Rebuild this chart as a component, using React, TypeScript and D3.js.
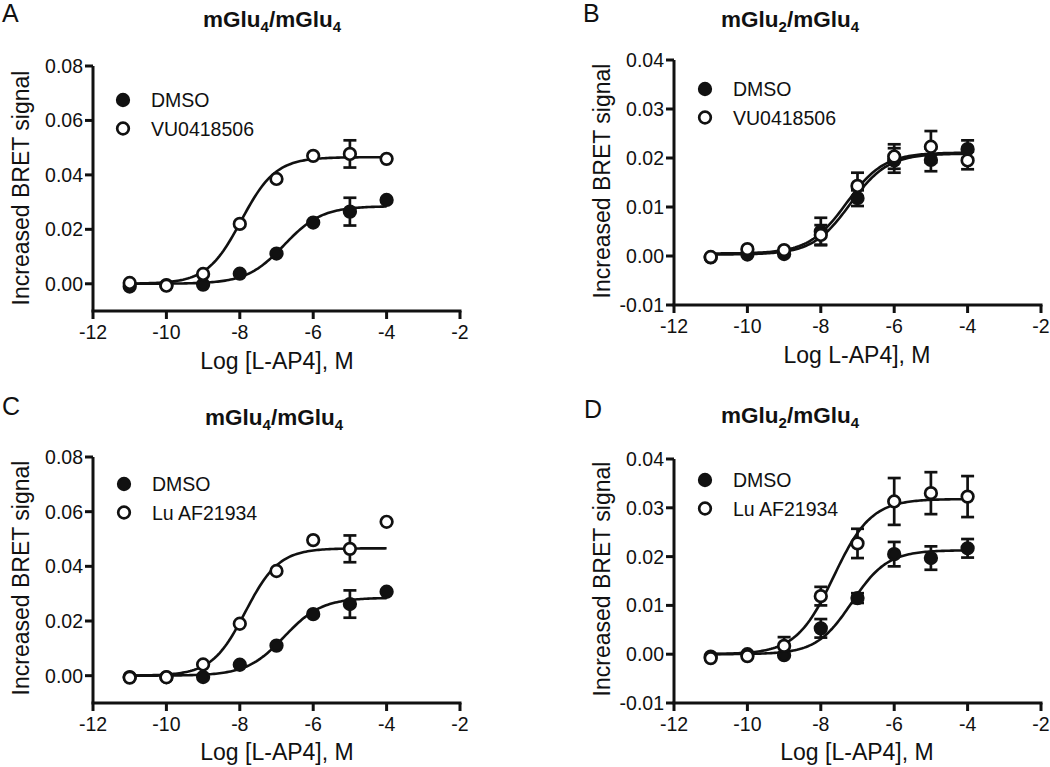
import React from 'react';
import * as d3 from 'd3';

// ---- data ----
const logConc = [-11, -10, -9, -8, -7, -6, -5, -4];
const xTicks = [-12, -10, -8, -6, -4, -2];
const yTicksMGlu4 = [0, 0.02, 0.04, 0.06, 0.08];
const yTicksMGlu2 = [-0.01, 0, 0.01, 0.02, 0.03, 0.04];

// Panel A
const aDmso = [-0.001, -0.0005, -0.0003, 0.0037, 0.0111, 0.0225, 0.0265, 0.0308];
const aDmsoSem = [0, 0, 0, 0, 0, 0, 0.0051, 0];
const aVu = [0.0003, -0.0007, 0.0036, 0.022, 0.0385, 0.047, 0.0477, 0.0459];
const aVuSem = [0, 0, 0, 0, 0, 0, 0.005, 0];
// fit params: [bottom, top, logEC50, hill]
const aDmsoFit = [0, 0.0285, -6.79, 0.85];
const aVuFit = [0, 0.0465, -7.96, 0.93];

// Panel B
const bDmso = [-0.0003, 0.0003, 0.0004, 0.005, 0.0118, 0.0195, 0.0196, 0.0218];
const bDmsoSem = [0, 0, 0, 0.0028, 0.0016, 0.0025, 0.0023, 0.0018];
const bVu = [-0.0002, 0.0014, 0.0012, 0.0043, 0.0143, 0.0203, 0.0223, 0.0195];
const bVuSem = [0, 0, 0, 0.002, 0.0027, 0.0025, 0.0032, 0.0018];
const bDmsoFit = [0.0003, 0.0209, -7.2, 0.85];
const bVuFit = [0.0005, 0.0211, -7.3, 0.85];

// Panel C
const cDmso = [-0.0005, -0.0005, -0.0005, 0.004, 0.011, 0.0225, 0.0262, 0.0307];
const cDmsoSem = [0, 0, 0, 0, 0, 0, 0.005, 0];
const cLu = [-0.0007, -0.0006, 0.0041, 0.019, 0.0383, 0.0496, 0.0464, 0.0563];
const cLuSem = [0, 0, 0, 0, 0, 0, 0.0049, 0];
const cDmsoFit = [0, 0.0285, -6.79, 0.85];
const cLuFit = [0, 0.0466, -7.85, 0.95];

// Panel D
const dDmso = [-0.0005, 0.0, -0.0002, 0.0053, 0.0115, 0.0205, 0.0197, 0.0217];
const dDmsoSem = [0, 0, 0, 0.0019, 0.001, 0.0025, 0.0024, 0.0019];
const dLu = [-0.0008, -0.0004, 0.0017, 0.0119, 0.0227, 0.0313, 0.033, 0.0323];
const dLuSem = [0, 0, 0.0018, 0.0019, 0.003, 0.0048, 0.0043, 0.0042];
const dDmsoFit = [0, 0.0213, -7.15, 0.9];
const dLuFit = [0, 0.0318, -7.65, 0.85];

const FONT = '"Liberation Sans", Arial, Helvetica, sans-serif';
const INK = '#111';

type Series = { y: number[]; sem: number[]; fit: number[]; open: boolean; label: string };

type PanelProps = {
  letter: string;
  letterX: number;
  letterY: number;
  titleSub: [string, string];
  titleX: number;
  titleY: number;
  x0: number;
  x1: number;
  yTop: number;
  yBot: number;
  yDomain: [number, number];
  yTicks: number[];
  xTitle: string;
  xTitleX: number;
  xTitleY: number;
  yTitleX: number;
  yTitleY: number;
  legendX: number;
  legendY: number;
  series: Series[];
};

function hill(p: number[], x: number) {
  const [b, t, e, h] = p;
  return b + (t - b) / (1 + Math.pow(10, h * (e - x)));
}

function Panel(p: PanelProps) {
  const xs = d3.scaleLinear().domain([-12, -2]).range([p.x0, p.x1]);
  const ys = d3.scaleLinear().domain(p.yDomain).range([p.yBot, p.yTop]);
  const curveX = d3.range(-11, -4 + 1e-9, 0.05);
  const r = 5.8;
  const sw = 2.7;
  return (
    <g fontFamily={FONT} fill={INK}>
      <text x={p.letterX} y={p.letterY} fontSize={25}>
        {p.letter}
      </text>
      <text x={p.titleX} y={p.titleY} fontSize={22.5} fontWeight="bold" textAnchor="middle">
        mGlu
        <tspan dy={5} fontSize={15}>
          {p.titleSub[0]}
        </tspan>
        <tspan dy={-5}>/mGlu</tspan>
        <tspan dy={5} fontSize={15}>
          {p.titleSub[1]}
        </tspan>
      </text>
      {/* axes */}
      <line x1={p.x0} x2={p.x0} y1={p.yTop} y2={p.yBot} stroke={INK} strokeWidth={3} />
      <line x1={p.x0 - 1.5} x2={p.x1 + 1.5} y1={p.yBot} y2={p.yBot} stroke={INK} strokeWidth={3} />
      {p.yTicks.map((t) => (
        <g key={'y' + t}>
          <line x1={p.x0 - 8} x2={p.x0} y1={ys(t)} y2={ys(t)} stroke={INK} strokeWidth={3} />
          <text x={p.x0 - 10} y={ys(t) + 7} fontSize={19.5} textAnchor="end">
            {t.toFixed(2)}
          </text>
        </g>
      ))}
      {xTicks.map((t) => (
        <g key={'x' + t}>
          <line x1={xs(t)} x2={xs(t)} y1={p.yBot} y2={p.yBot + 8} stroke={INK} strokeWidth={3} />
          <text x={xs(t)} y={p.yBot + 28} fontSize={19.5} textAnchor="middle">
            {String(t)}
          </text>
        </g>
      ))}
      <text x={p.xTitleX} y={p.xTitleY} fontSize={23} textAnchor="middle">
        {p.xTitle}
      </text>
      <text
        transform={`translate(${p.yTitleX},${p.yTitleY}) rotate(-90)`}
        fontSize={23}
        textAnchor="middle"
      >
        Increased BRET signal
      </text>
      {/* fitted curves */}
      {p.series.map((s, i) => (
        <path
          key={'c' + i}
          d={d3
            .line<number>()
            .x((v) => xs(v))
            .y((v) => ys(hill(s.fit, v)))(curveX) as string}
          fill="none"
          stroke={INK}
          strokeWidth={2.6}
        />
      ))}
      {/* error bars */}
      {p.series.map((s, i) =>
        logConc.map((c, j) =>
          s.sem[j] > 0 ? (
            <g key={'e' + i + '-' + j} stroke={INK} strokeWidth={2.7}>
              <line x1={xs(c)} x2={xs(c)} y1={ys(s.y[j] - s.sem[j])} y2={ys(s.y[j] + s.sem[j])} />
              <line x1={xs(c) - 6.5} x2={xs(c) + 6.5} y1={ys(s.y[j] + s.sem[j])} y2={ys(s.y[j] + s.sem[j])} />
              <line x1={xs(c) - 6.5} x2={xs(c) + 6.5} y1={ys(s.y[j] - s.sem[j])} y2={ys(s.y[j] - s.sem[j])} />
            </g>
          ) : null
        )
      )}
      {/* points */}
      {p.series.map((s, i) =>
        logConc.map((c, j) => (
          <circle
            key={'p' + i + '-' + j}
            cx={xs(c)}
            cy={ys(s.y[j])}
            r={r}
            fill={s.open ? '#fff' : INK}
            stroke={INK}
            strokeWidth={sw}
          />
        ))
      )}
      {/* legend */}
      {p.series.map((s, i) => (
        <g key={'l' + i}>
          <circle
            cx={p.legendX}
            cy={p.legendY + i * 28.5}
            r={r}
            fill={s.open ? '#fff' : INK}
            stroke={INK}
            strokeWidth={sw}
          />
          <text x={p.legendX + 28} y={p.legendY + i * 28.5 + 7} fontSize={19.5}>
            {s.label}
          </text>
        </g>
      ))}
    </g>
  );
}

export default function App() {
  const panels: PanelProps[] = [
    {
      letter: 'A', letterX: 2, letterY: 22, titleSub: ['4', '4'], titleX: 272, titleY: 27,
      x0: 93, x1: 460, yTop: 66, yBot: 311, yDomain: [-0.01, 0.08], yTicks: yTicksMGlu4,
      xTitle: 'Log [L-AP4], M', xTitleX: 277, xTitleY: 369, yTitleX: 29, yTitleY: 188,
      legendX: 123, legendY: 100,
      series: [
        { y: aDmso, sem: aDmsoSem, fit: aDmsoFit, open: false, label: 'DMSO' },
        { y: aVu, sem: aVuSem, fit: aVuFit, open: true, label: 'VU0418506' },
      ],
    },
    {
      letter: 'B', letterX: 583, letterY: 22, titleSub: ['2', '4'], titleX: 790, titleY: 27,
      x0: 674, x1: 1041, yTop: 60, yBot: 305, yDomain: [-0.01, 0.04], yTicks: yTicksMGlu2,
      xTitle: 'Log L-AP4], M', xTitleX: 857, xTitleY: 363, yTitleX: 610, yTitleY: 181,
      legendX: 705, legendY: 89,
      series: [
        { y: bDmso, sem: bDmsoSem, fit: bDmsoFit, open: false, label: 'DMSO' },
        { y: bVu, sem: bVuSem, fit: bVuFit, open: true, label: 'VU0418506' },
      ],
    },
    {
      letter: 'C', letterX: 2, letterY: 415, titleSub: ['4', '4'], titleX: 274, titleY: 425,
      x0: 93, x1: 460, yTop: 457, yBot: 703, yDomain: [-0.01, 0.08], yTicks: yTicksMGlu4,
      xTitle: 'Log [L-AP4], M', xTitleX: 277, xTitleY: 760, yTitleX: 29, yTitleY: 578,
      legendX: 124, legendY: 484,
      series: [
        { y: cDmso, sem: cDmsoSem, fit: cDmsoFit, open: false, label: 'DMSO' },
        { y: cLu, sem: cLuSem, fit: cLuFit, open: true, label: 'Lu AF21934' },
      ],
    },
    {
      letter: 'D', letterX: 584, letterY: 418, titleSub: ['2', '4'], titleX: 790, titleY: 423,
      x0: 674, x1: 1041, yTop: 459, yBot: 703, yDomain: [-0.01, 0.04], yTicks: yTicksMGlu2,
      xTitle: 'Log [L-AP4], M', xTitleX: 857, xTitleY: 760, yTitleX: 610, yTitleY: 579,
      legendX: 705, legendY: 480,
      series: [
        { y: dDmso, sem: dDmsoSem, fit: dDmsoFit, open: false, label: 'DMSO' },
        { y: dLu, sem: dLuSem, fit: dLuFit, open: true, label: 'Lu AF21934' },
      ],
    },
  ];
  return (
    <svg
      width={1050}
      height={767}
      style={{ position: 'absolute', left: 0, top: 0, background: '#fff' }}
    >
      <rect x={0} y={0} width={1050} height={767} fill="#fff" />
      {panels.map((p) => (
        <Panel key={p.letter} {...p} />
      ))}
    </svg>
  );
}
